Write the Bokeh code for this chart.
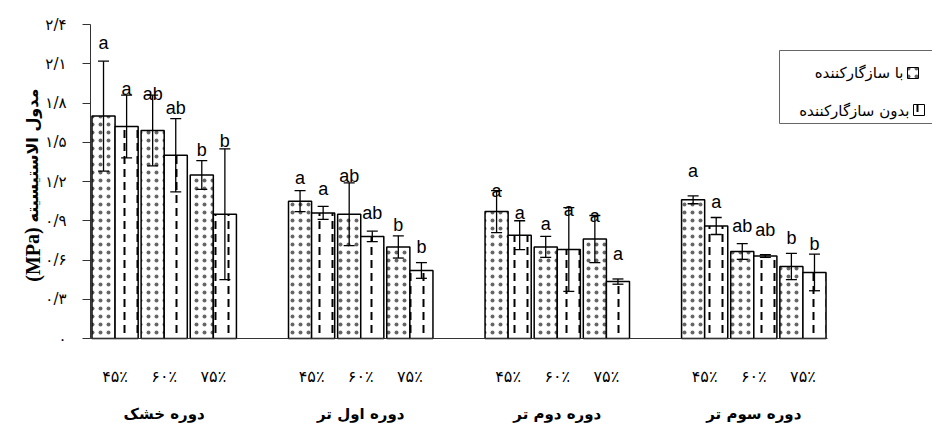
from bokeh.plotting import figure
from bokeh.models import (ColumnDataSource, Range1d, Whisker, TeeHead, FixedTicker,
                          LinearAxis)
from bokeh.transform import dodge
from bokeh.core.properties import value
from bokeh.embed import file_html
from bokeh.resources import INLINE

# ---------------- data ----------------
groups = ["دوره خشک", "دوره اول تر", "دوره دوم تر", "دوره سوم تر"]
levels = ["۴۵٪", "۶۰٪", "۷۵٪"]
series_names = ["با سازگارکننده", "بدون سازگارکننده"]

with_comp = [1.70, 1.59, 1.25, 1.05, 0.95, 0.70, 0.97, 0.70, 0.76, 1.06, 0.665, 0.55]
with_err = [0.42, 0.27, 0.11, 0.08, 0.24, 0.085, 0.16, 0.08, 0.18, 0.03, 0.06, 0.10]
with_letters = ["a", "ab", "b", "a", "ab", "b", "a", "a", "a", "a", "ab", "b"]
with_letter_y = [2.26, 1.87, 1.44, 1.23, 1.24, 0.87, 1.13, 0.875, 0.94, 1.28, 0.86, 0.77]

without_comp = [1.62, 1.40, 0.95, 0.96, 0.78, 0.52, 0.79, 0.68, 0.435, 0.86, 0.63, 0.505]
without_err = [0.24, 0.28, 0.50, 0.05, 0.04, 0.06, 0.11, 0.32, 0.02, 0.065, 0.01, 0.14]
without_letters = ["a", "ab", "b", "a", "ab", "b", "a", "a", "a", "a", "ab", "b"]
without_letter_y = [1.91, 1.76, 1.51, 1.14, 0.96, 0.70, 0.96, 0.98, 0.645, 1.04, 0.83, 0.72]

ytick_vals = [0, 0.3, 0.6, 0.9, 1.2, 1.5, 1.8, 2.1, 2.4]
ytick_labels = ["۰", "۰/۳", "۰/۶", "۰/۹", "۱/۲", "۱/۵", "۱/۸", "۲/۱", "۲/۴"]
ylabel_fa = "مدول الاستیسیته"
ylabel_unit = "(MPa)"

# ---------------- layout helpers ----------------
GROUP_STEP = len(levels) + 1          # one empty slot between groups
pair_x = [g * GROUP_STEP + l + 0.5 for g in range(len(groups)) for l in range(len(levels))]
group_x = [g * GROUP_STEP + (len(levels)) / 2 for g in range(len(groups))]
level_lbl = [levels[l] for g in range(len(groups)) for l in range(len(levels))]
X_END = GROUP_STEP * len(groups) - 1   # 15

src = ColumnDataSource(dict(
    x=pair_x,
    w=with_comp,
    w_up=[v + e for v, e in zip(with_comp, with_err)],
    w_lo=[v - e for v, e in zip(with_comp, with_err)],
    w_lt=with_letters, w_ly=with_letter_y,
    n=without_comp,
    n_up=[v + e for v, e in zip(without_comp, without_err)],
    n_lo=[v - e for v, e in zip(without_comp, without_err)],
    n_lt=without_letters, n_ly=without_letter_y,
))

W, H = 932, 423
PX_X = 737 / X_END            # pixels per x unit
PX_Y = 314 / 2.4              # pixels per y unit
x0_px, y0_px = 90, 338        # pixel position of data origin
p = figure(width=W, height=H,
           x_range=Range1d(-x0_px / PX_X, (W - x0_px) / PX_X),
           y_range=Range1d(-(H - y0_px) / PX_Y, y0_px / PX_Y),
           output_backend="svg", toolbar_location=None,
           min_border_left=0, min_border_right=0, min_border_top=0, min_border_bottom=0)
p.outline_line_color = None
p.xgrid.grid_line_color = None
p.ygrid.grid_line_color = None
p.background_fill_color = "white"
p.border_fill_color = "white"

DOT = dict(hatch_pattern="dot", hatch_scale=8, hatch_color="black", hatch_alpha=0.6)
DASH = dict(hatch_pattern="vertical_dash", hatch_scale=13, hatch_weight=2, hatch_color="black")

BW = 0.47
OFF = 0.235
FA = "DejaVu Sans"

p.vbar(x=dodge("x", -OFF), top="w", width=BW, source=src,
       fill_color="white", line_color="black", line_width=1.5, **DOT)
p.vbar(x=dodge("x", OFF), top="n", width=BW, source=src,
       fill_color="white", line_color="black", line_width=1.5, **DASH)

for off, up, lo in [(-OFF, "w_up", "w_lo"), (OFF, "n_up", "n_lo")]:
    wk = Whisker(base=dodge("x", off), upper=up, lower=lo, source=src,
                 line_color="black", line_width=1.3, level="annotation",
                 upper_head=TeeHead(size=11, line_color="black", line_width=1.3),
                 lower_head=TeeHead(size=11, line_color="black", line_width=1.3))
    p.add_layout(wk)

for off, ly, lt in [(-OFF, "w_ly", "w_lt"), (OFF, "n_ly", "n_lt")]:
    p.text(x=dodge("x", off), y=ly, text=lt, source=src,
           text_align="center", text_baseline="middle",
           text_font=value("Liberation Sans"), text_font_size="18px", text_color="black")

# y axis
ya = p.yaxis[0]
ya.fixed_location = 0
ya.bounds = (0, 2.4)
ya.ticker = FixedTicker(ticks=ytick_vals)
ya.major_label_overrides = dict(zip(ytick_vals, ytick_labels))
ya.major_tick_out = 8
ya.major_tick_in = 0
ya.minor_tick_line_color = None
ya.major_label_standoff = 16
ya.major_label_text_font = FA
ya.major_label_text_font_size = "15px"
ya.major_label_text_color = "black"
ya.axis_line_color = "#333333"
ya.major_tick_line_color = "#333333"

# x axis (levels)
xa = p.xaxis[0]
xa.fixed_location = 0
xa.bounds = (0, X_END)
xa.ticker = FixedTicker(ticks=pair_x)
xa.major_label_overrides = dict(zip(pair_x, level_lbl))
xa.major_tick_out = 0
xa.major_tick_in = 0
xa.major_tick_line_color = None
xa.minor_tick_line_color = None
xa.axis_line_color = "#333333"
xa.major_label_standoff = 28
xa.major_label_text_font = FA
xa.major_label_text_font_size = "16px"
xa.major_label_text_color = "black"

# x axis (groups)
ga = LinearAxis(fixed_location=0, ticker=FixedTicker(ticks=group_x),
                major_label_overrides=dict(zip(group_x, groups)),
                axis_line_color=None, major_tick_line_color=None,
                minor_tick_line_color=None, major_tick_out=0, major_tick_in=0,
                major_label_standoff=66, major_label_text_font=FA,
                major_label_text_font_size="15px", major_label_text_font_style="bold",
                major_label_text_color="black")
p.add_layout(ga, "below")

# y axis title (two parts, rotated)
p.text(x=[-58 / PX_X], y=[(y0_px - 155) / PX_Y], text=[ylabel_fa], angle=1.5708,
       text_align="center", text_baseline="middle",
       text_font=value(FA), text_font_size="16px", text_font_style="bold",
       text_color="black")
p.text(x=[-58 / PX_X], y=[(y0_px - 254) / PX_Y], text=[ylabel_unit], angle=1.5708,
       text_align="center", text_baseline="middle",
       text_font=value("Liberation Serif"), text_font_size="20px",
       text_font_style="bold", text_color="black")

# legend (right-to-left layout)
def px_x(px):
    return (px - x0_px) / PX_X

def px_y(py):
    return (y0_px - py) / PX_Y

p.quad(left=[px_x(779)], right=[px_x(940)], top=[px_y(50)], bottom=[px_y(123)],
       fill_color=None, line_color="#666666", line_width=1)
p.quad(left=[px_x(907)], right=[px_x(918)], top=[px_y(67)], bottom=[px_y(78)],
       fill_color="white", line_color="black", line_width=1, **DOT)
p.quad(left=[px_x(913)], right=[px_x(924)], top=[px_y(104)], bottom=[px_y(115)],
       fill_color="white", line_color="black", line_width=1, **DASH)
p.text(x=[px_x(903), px_x(909)], y=[px_y(72), px_y(110)], text=series_names,
       text_align="right", text_baseline="middle",
       text_font=value(FA), text_font_size="15px", text_color="black")

open("out.html", "w").write(file_html(p, INLINE))
